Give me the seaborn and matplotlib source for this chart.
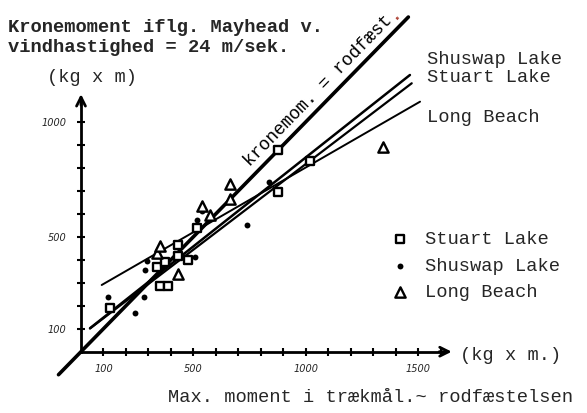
import matplotlib
matplotlib.use("Agg")
import matplotlib.pyplot as plt
import seaborn as sns
import pandas as pd

# Measured points (kg x m): max. root anchorage moment vs. crown moment
stuart_x = [130, 336, 351, 385, 373, 432, 432, 475, 514, 877, 877, 1018]
stuart_y = [192, 370, 285, 285, 388, 464, 416, 399, 537, 877, 693, 830]
shuswap_x = [118, 238, 280, 284, 292, 507, 514, 536, 736, 836]
shuswap_y = [239, 170, 237, 355, 395, 413, 573, 610, 551, 739]
longbeach_x = [336, 351, 432, 536, 573, 662, 662, 1344]
longbeach_y = [428, 458, 337, 635, 594, 729, 663, 891]

# Reference line (crown moment = root anchorage) and fitted lines
equal_x = [-100, 1455]
equal_y = [-100, 1455]
shuswap_fit_x = [40, 1462]
shuswap_fit_y = [102, 1203]
stuart_fit_x = [40, 1470]
stuart_fit_y = [101, 1167]
longbeach_fit_x = [92, 1507]
longbeach_fit_y = [290, 1087]

x_major = [100, 500, 1000, 1500]
x_major_labels = ["100", "500", "1000", "1500"]
x_minor = [200, 300, 400, 600, 700, 800, 900, 1100, 1200, 1300, 1400, 1600]
y_major = [100, 500, 1000]
y_major_labels = ["100", "500", "1000"]
y_minor = [200, 300, 400, 600, 700, 800, 900]

sns.set_theme(style="white")
plt.rcParams["font.family"] = ["Liberation Mono", "DejaVu Sans Mono"]

fig = plt.figure(figsize=(5.87, 4.13), dpi=100)
ax = fig.add_axes([0, 0, 1, 1])
ax.set_xlim(-360, 2249)
ax.set_ylim(-266.5, 1529)


def line(xs, ys, lw):
    df = pd.DataFrame({"x": xs, "y": ys})
    sns.lineplot(data=df, x="x", y="y", sort=False, color="black",
                 linewidth=lw, ax=ax, legend=False)


line(equal_x, equal_y, 2.6)
line(shuswap_fit_x, shuswap_fit_y, 1.8)
line(stuart_fit_x, stuart_fit_y, 1.6)
line(longbeach_fit_x, longbeach_fit_y, 1.4)

# Points
sns.scatterplot(x=stuart_x, y=stuart_y, marker="s", s=38, facecolor="white",
                edgecolor="black", linewidth=1.7, ax=ax, label="Stuart Lake", zorder=4)
sns.scatterplot(x=shuswap_x, y=shuswap_y, marker="o", s=18, color="black",
                edgecolor="black", linewidth=0, ax=ax, label="Shuswap Lake", zorder=4)
sns.scatterplot(x=longbeach_x, y=longbeach_y, marker="^", s=55, facecolor="white",
                edgecolor="black", linewidth=1.7, ax=ax, label="Long Beach", zorder=4)

# Axes through the origin with arrow heads
for side in ["top", "right"]:
    ax.spines[side].set_visible(False)
ax.spines["left"].set_position(("data", 0))
ax.spines["bottom"].set_position(("data", 0))
ax.spines["left"].set_bounds(0, 1100)
ax.spines["bottom"].set_bounds(0, 1620)
for side in ["left", "bottom"]:
    ax.spines[side].set_linewidth(2)
    ax.spines[side].set_color("black")
ax.annotate("", xy=(1660, 0), xytext=(1580, 0),
            arrowprops=dict(arrowstyle="->", lw=2, color="black", mutation_scale=16))
ax.annotate("", xy=(0, 1132), xytext=(0, 1060),
            arrowprops=dict(arrowstyle="->", lw=2, color="black", mutation_scale=16))

ax.set_xticks(x_major)
ax.set_xticklabels(x_major_labels, fontsize=7, fontstyle="italic",
                   fontfamily="DejaVu Sans")
ax.set_xticks(x_minor, minor=True)
ax.set_yticks(y_major)
ax.set_yticklabels(y_major_labels, fontsize=7, fontstyle="italic",
                   fontfamily="DejaVu Sans")
ax.set_yticks(y_minor, minor=True)
ax.tick_params(which="both", direction="inout", length=5.5, width=1.5,
               color="black", bottom=True, left=True)
ax.tick_params(axis="x", pad=6)
ax.tick_params(axis="y", pad=8)
ax.set_xlabel("")
ax.set_ylabel("")
ax.grid(False)

# Label along the equality line, ending with a red-brown full stop
ax.text(736, 818, "kronemom. = rodfæst", rotation=45.6, rotation_mode="anchor",
        ha="left", va="center", fontsize=13, color="black")
ax.annotate(".", xy=(736, 818), xytext=(103.6, 105.8), textcoords="offset points",
            rotation=45.6, rotation_mode="anchor", ha="left", va="center",
            fontsize=13, fontweight="bold", color="#b0473a")

fs = 13.5
fig.text(8 / 587, 1 - 28 / 413, "Kronemoment iflg. Mayhead v.", fontsize=fs,
         fontweight="bold", va="center", ha="left")
fig.text(8 / 587, 1 - 47 / 413, "vindhastighed = 24 m/sek.", fontsize=fs,
         fontweight="bold", va="center", ha="left")
fig.text(47 / 587, 1 - 77 / 413, "(kg x m)", fontsize=fs, va="center", ha="left")
fig.text(460 / 587, 1 - 355 / 413, "(kg x m.)", fontsize=fs, va="center", ha="left")
fig.text(168 / 587, 1 - 398 / 413, "Max. moment i trækmål.~ rodfæstelsen",
         fontsize=fs, va="center", ha="left")
fig.text(427 / 587, 1 - 60 / 413, "Shuswap Lake", fontsize=fs, va="center", ha="left")
fig.text(427 / 587, 1 - 78 / 413, "Stuart Lake", fontsize=fs, va="center", ha="left")
fig.text(427 / 587, 1 - 117 / 413, "Long Beach", fontsize=fs, va="center", ha="left")

leg = ax.legend(loc="upper left", bbox_to_anchor=(391 / 587, 1 - 231 / 413),
                frameon=False, fontsize=fs, handletextpad=0.8, labelspacing=0.5,
                borderaxespad=0, borderpad=0, handlelength=1.0)

fig.savefig("out.png", dpi=100)
